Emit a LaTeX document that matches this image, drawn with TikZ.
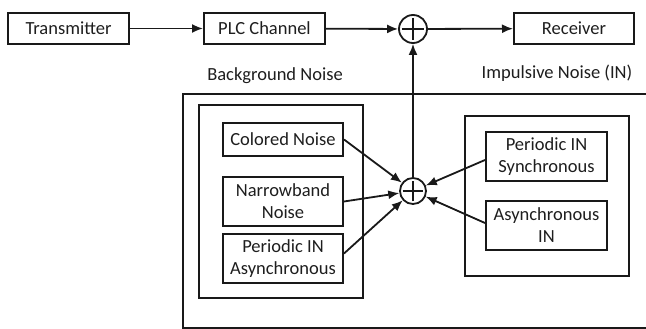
\documentclass[tikz,border=0pt]{standalone}
\usepackage{fontspec}
\setmainfont{Carlito}
\usetikzlibrary{arrows.meta}
\definecolor{ink}{RGB}{25,25,25}
\definecolor{txt}{RGB}{30,30,30}
\tikzset{
  blk/.style={draw=ink, line width=2pt, rectangle, inner sep=0pt, align=center,
    text=txt, font=\fontsize{18.5}{22}\selectfont},
  grp/.style={draw=ink, line width=1.8pt},
  lbl/.style={text=txt, font=\fontsize{18.5}{22}\selectfont, inner sep=0pt},
  sumnode/.style={draw=ink, line width=1.8pt, circle, minimum size=#1, inner sep=0pt,
    path picture={
      \draw[ink, line width=1.8pt] ([yshift=-0.4*#1]path picture bounding box.center) -- ([yshift=0.4*#1]path picture bounding box.center);
      \draw[ink, line width=1.8pt] ([xshift=-0.4*#1]path picture bounding box.center) -- ([xshift=0.4*#1]path picture bounding box.center);
    }},
  arr/.style={draw=ink, line width=1.8pt, -{Latex[length=11pt,width=9pt]}},
}
\begin{document}
\begin{tikzpicture}[x=1pt,y=-1pt]
\useasboundingbox (0,0) rectangle (646,329);
\fill[white] (0,0) rectangle (646,329);
% top row
\node[blk, minimum width=121pt, minimum height=31pt] (tx) at (68.5,28.5) {Transmitter};
\node[blk, minimum width=121pt, minimum height=31pt] (plc) at (264.5,28.5) {PLC Channel};
\node[sumnode=28pt] (s1) at (413,29) {};
\node[blk, minimum width=120pt, minimum height=31pt] (rx) at (574,28.5) {Receiver};
\draw[arr] (tx) -- (plc);
\draw[arr] (plc) -- (s1);
\draw[arr] (s1) -- (rx);
% labels
\node[lbl] (bgl) at (275,76) {Background Noise};
\node[lbl] (inl) at (557,73) {Impulsive Noise (IN)};
% big enclosure
\draw[ink, line width=1.8pt] (647,94) -- (183,94) -- (183,328) -- (647,328);
% group boxes
\draw[grp] (199,105) rectangle (363,298);
\draw[grp] (465,116) rectangle (629,276);
% inner blocks
\node[blk, minimum width=120pt, minimum height=33pt] (cn) at (283,139.5) {Colored Noise};
\node[blk, minimum width=120pt, minimum height=49pt] (nb) at (283,201.5) {Narrowband\\Noise};
\node[blk, minimum width=120pt, minimum height=49pt] (pa) at (283,258.5) {Periodic IN\\Asynchronous};
\node[blk, minimum width=121pt, minimum height=49pt] (ps) at (546.5,156.5) {Periodic IN\\Synchronous};
\node[blk, minimum width=121pt, minimum height=49pt] (ai) at (546.5,225.5) {Asynchronous\\IN};
\node[sumnode=26pt] (s2) at (413,191) {};
% connectors
\draw[arr] (s2) -- (s1);
\draw[arr] (cn.east) -- (s2);
\draw[arr] (nb.east) -- (s2);
\draw[arr] ([yshift=5pt]pa.east) -- (s2);
\draw[arr] ([yshift=-3.5pt]ps.west) -- (s2);
\draw[arr] ([yshift=2.5pt]ai.west) -- (s2);
\end{tikzpicture}
\end{document}
